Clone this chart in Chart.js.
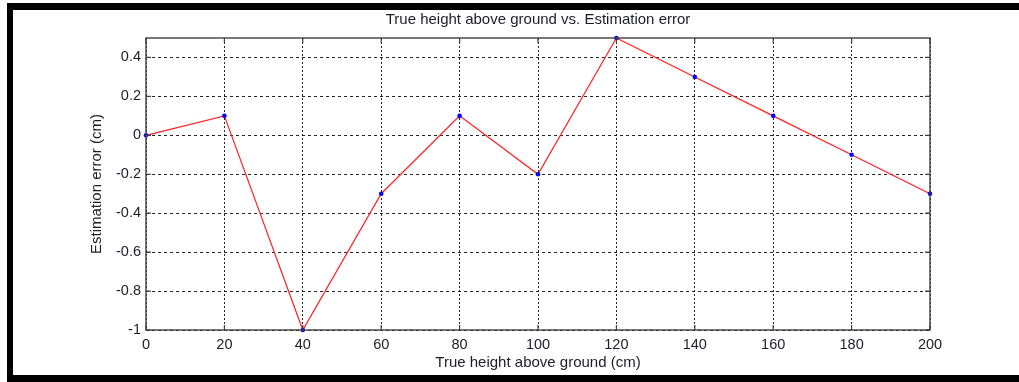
<!DOCTYPE html>
<html>
<head>
<meta charset="utf-8">
<script src="https://cdn.jsdelivr.net/npm/chart.js@4/dist/chart.umd.min.js"></script>
<style>
  html, body { margin: 0; padding: 0; background: #ffffff; }
  #wrap { position: relative; width: 1019px; height: 382px; }
</style>
</head>
<body>
<div id="wrap"><canvas id="c" width="1019" height="382"></canvas></div>
<script>
// ---- data ----
const heights = [0, 20, 40, 60, 80, 100, 120, 140, 160, 180, 200];
const errors  = [0, 0.1, -1, -0.3, 0.1, -0.2, 0.5, 0.3, 0.1, -0.1, -0.3];
const xTickValues = [0, 20, 40, 60, 80, 100, 120, 140, 160, 180, 200];
const yTickValues = [-1, -0.8, -0.6, -0.4, -0.2, 0, 0.2, 0.4];
const titleText = 'True height above ground vs. Estimation error';
const xTitle = 'True height above ground (cm)';
const yTitle = 'Estimation error (cm)';

const FONT = 'Liberation Sans, Arial, Helvetica, sans-serif';
const TXT = '#1c1c2c';

const framePlugin = {
  id: 'frame',
  beforeDraw(chart) {
    const ctx = chart.ctx;
    ctx.save();
    ctx.fillStyle = '#ffffff';
    ctx.fillRect(0, 0, chart.width, chart.height);
    ctx.restore();
  },
  afterDatasetsDraw(chart) {
    const ctx = chart.ctx;
    const a = chart.chartArea;
    const xs = chart.scales.x, ys = chart.scales.y;
    ctx.save();
    ctx.strokeStyle = '#404040';
    ctx.lineWidth = 1.4;
    ctx.setLineDash([]);
    ctx.strokeRect(a.left, a.top, a.right - a.left, a.bottom - a.top);
    ctx.lineWidth = 1.2;
    ctx.beginPath();
    const tl = 5;
    xTickValues.forEach(v => {
      const px = xs.getPixelForValue(v);
      ctx.moveTo(px, a.bottom); ctx.lineTo(px, a.bottom - tl);
      ctx.moveTo(px, a.top); ctx.lineTo(px, a.top + tl);
    });
    yTickValues.forEach(v => {
      const py = ys.getPixelForValue(v);
      ctx.moveTo(a.left, py); ctx.lineTo(a.left + tl, py);
      ctx.moveTo(a.right, py); ctx.lineTo(a.right - tl, py);
    });
    ctx.stroke();
    ctx.restore();
  },
  afterDraw(chart) {
    const ctx = chart.ctx;
    ctx.save();
    ctx.fillStyle = '#000000';
    ctx.fillRect(7, 3, chart.width - 7, 7);
    ctx.fillRect(7, 3, 6, chart.height - 3);
    ctx.fillRect(7, 375, chart.width - 7, 7);
    ctx.restore();
  }
};

new Chart(document.getElementById('c'), {
  type: 'scatter',
  data: {
    datasets: [{
      data: heights.map((h, i) => ({ x: h, y: errors[i] })),
      showLine: true,
      borderColor: '#ff2020',
      borderWidth: 1.2,
      pointBackgroundColor: '#0000ff',
      pointBorderColor: '#0000ff',
      pointRadius: 2.3,
      pointBorderWidth: 0,
      clip: false,
      tension: 0
    }]
  },
  options: {
    responsive: false,
    animation: false,
    devicePixelRatio: 1,
    layout: { padding: { left: 0, right: 89, top: 0, bottom: 0 } },
    plugins: {
      legend: { display: false },
      tooltip: { enabled: false },
      title: {
        display: true,
        text: titleText,
        fullSize: false,
        color: TXT,
        font: { family: FONT, size: 15, weight: 'normal', lineHeight: 1.2 },
        padding: { top: 11, bottom: 9 }
      }
    },
    scales: {
      x: {
        type: 'linear',
        min: 0, max: 200,
        afterBuildTicks: s => { s.ticks = xTickValues.map(v => ({ value: v })); },
        afterFit: s => { s.height = 52; },
        ticks: {
          color: TXT,
          font: { family: FONT, size: 14.5 },
          padding: 6,
          maxRotation: 0,
          callback: v => String(v)
        },
        grid: { color: 'rgba(0,0,0,0.85)', lineWidth: 1, drawTicks: false },
        border: { display: false, dash: [2, 2] },
        title: {
          display: true, text: xTitle, color: TXT,
          font: { family: FONT, size: 15, lineHeight: 1.2 },
          padding: { top: 0, bottom: 10 }
        }
      },
      y: {
        type: 'linear',
        min: -1, max: 0.5,
        afterBuildTicks: s => { s.ticks = yTickValues.map(v => ({ value: v })); },
        afterFit: s => { s.width = 146; },
        ticks: {
          color: TXT,
          font: { family: FONT, size: 14.5 },
          padding: 5,
          callback: v => String(Math.round(v * 10) / 10)
        },
        grid: { color: 'rgba(0,0,0,0.85)', lineWidth: 1, drawTicks: false },
        border: { display: false, dash: [3, 3] },
        title: {
          display: true, text: yTitle, color: TXT,
          font: { family: FONT, size: 15, lineHeight: 1.2 },
          padding: { top: 87.5, bottom: 0 }
        }
      }
    }
  },
  plugins: [framePlugin]
});
</script>
</body>
</html>
